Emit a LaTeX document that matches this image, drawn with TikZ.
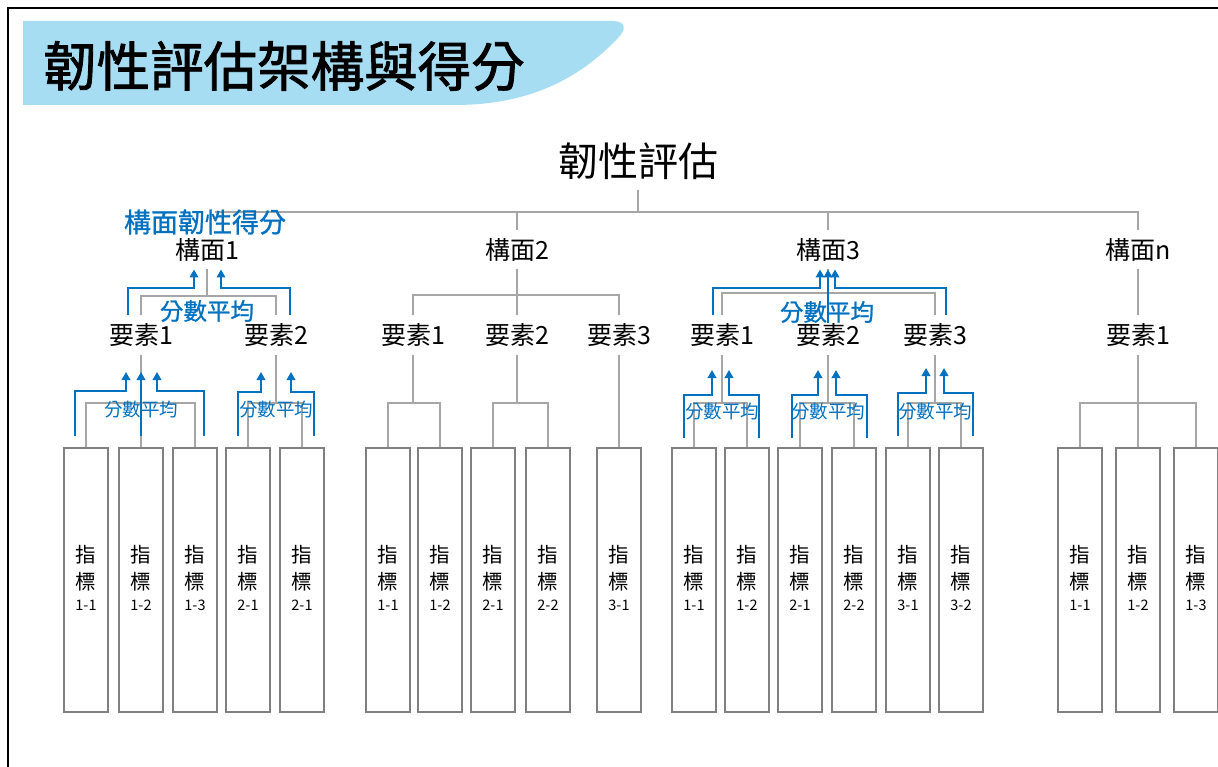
\documentclass[tikz,border=0pt]{standalone}
\usepackage{fontspec}
\setmainfont{Noto Sans CJK TC}
\newfontfamily\cjkfb[FakeBold=1.6]{Noto Sans CJK TC}
\newfontfamily\cjkmb[FakeBold=1.0]{Noto Sans CJK TC}
\usetikzlibrary{arrows.meta,calc}
\definecolor{tgray}{HTML}{A6A6A6}
\definecolor{bgray}{HTML}{808080}
\definecolor{ablue}{HTML}{0070C0}
\definecolor{banner}{HTML}{A6DDF2}
\begin{document}
\begin{tikzpicture}[x=1pt,y=-1pt,
  tree/.style={draw=tgray,line width=1.5pt},
  lab/.style={inner sep=0pt,outer xsep=0pt,outer ysep=8pt,font=\fontsize{25}{27}\selectfont},
  rootlab/.style={inner sep=0pt,outer ysep=11pt,font=\fontsize{40}{44}\selectfont},
  indbox/.style={draw=bgray,line width=2pt,minimum width=44pt,minimum height=264pt,inner sep=0pt,anchor=north},
  itxt/.style={inner sep=0pt,font=\fontsize{20.5}{22}\selectfont},
  inum/.style={inner sep=0pt,font=\fontsize{14.5}{15}\selectfont},
  barr/.style={draw=ablue,line width=2.2pt,-{Triangle[width=8.5pt,length=8pt]}},
  btxtL/.style={text=ablue,inner sep=0pt,font=\cjkmb\fontsize{23.5}{25}\selectfont},
  btxtS/.style={text=ablue,inner sep=0pt,font=\fontsize{18.5}{20}\selectfont}]
\useasboundingbox (0,0) rectangle (1218,767);
% frame
\draw[line width=2pt] (8,780) -- (8,8) -- (1230,8);
% banner
\fill[banner] (23,21) -- (612,21) .. controls (626,21) and (627,29) .. (618,38)
  .. controls (580,78) and (530,105) .. (455,105) -- (23,105) -- cycle;
\node[font=\cjkfb\fontsize{53.5}{57}\selectfont,inner sep=0pt,anchor=west] (title) at (43,66) {韌性評估架構與得分};

% root and dimensions
\node[rootlab] (r) at (638,161) {韌性評估};
\coordinate (rj) at (638,212);
\node[lab] (c1) at (207,250) {構面1};
\node[lab] (c2) at (517,250) {構面2};
\node[lab] (c3) at (828,250) {構面3};
\node[lab] (c4) at (1138,250) {構面n};
\draw[tree] (r.south) -- (rj);
\draw[tree] (215,212) -- (c2.north |- rj) -- (c4.north |- rj) -- (c4.north);
\draw[tree] (c2.north |- rj) -- (c2.north);
\draw[tree] (c3.north |- rj) -- (c3.north);

% elements
\node[lab] (e11) at (141,335) {要素1};
\node[lab] (e12) at (276,335) {要素2};
\node[lab] (e21) at (413,335) {要素1};
\node[lab] (e22) at (517,335) {要素2};
\node[lab] (e23) at (619,335) {要素3};
\node[lab] (e31) at (722,335) {要素1};
\node[lab] (e32) at (828,335) {要素2};
\node[lab] (e33) at (935,335) {要素3};
\node[lab] (e41) at (1138,335) {要素1};

\coordinate (j1) at (207,296);
\coordinate (j2) at (517,295);
\coordinate (j3) at (828,293);
\draw[tree] (c1.south) -- (j1);
\draw[tree] (e11.north) |- (j1) -| (e12.north);
\draw[tree] (c2.south) -- (e22.north);
\draw[tree] (e21.north) |- (j2) -| (e23.north);
\draw[tree] (c3.south) -- (j3) -- (e32.north);
\draw[tree] (e31.north) |- (j3) -| (e33.north);
\draw[tree] (c4.south) -- (e41.north);

% indicator boxes
\foreach \n/\x/\t in {1/86/1-1,2/141/1-2,3/195/1-3,4/248/2-1,5/302/2-1,
  6/388/1-1,7/440/1-2,8/493/2-1,9/548/2-2,10/619/3-1,
  11/694/1-1,12/747/1-2,13/800/2-1,14/854/2-2,15/908/3-1,16/961/3-2,
  17/1080/1-1,18/1138/1-2,19/1196/1-3}{
  \node[indbox] (b\n) at (\x,447) {};
  \node[itxt] (z\n) at ($(b\n.north)+(0,108)$) {指};
  \node[itxt] (w\n) at ($(b\n.north)+(0,135)$) {標};
  \node[inum] (v\n) at ($(b\n.north)+(0,158)$) {\t};
}

% element -> indicator connections
\coordinate (k11) at (141,403);
\coordinate (k12) at (276,403);
\coordinate (k21) at (413,403);
\coordinate (k22) at (517,403);
\coordinate (k31) at (722,403);
\coordinate (k32) at (828,403);
\coordinate (k33) at (935,403);
\coordinate (k41) at (1138,403);
\draw[tree] (e11.south) -- (b2.north);
\draw[tree] (b1.north) |- (k11) -| (b3.north);
\draw[tree] (e12.south) -- (k12);
\draw[tree] (b4.north) |- (k12) -| (b5.north);
\draw[tree] (e21.south) -- (k21);
\draw[tree] (b6.north) |- (k21) -| (b7.north);
\draw[tree] (e22.south) -- (k22);
\draw[tree] (b8.north) |- (k22) -| (b9.north);
\draw[tree] (e23.south) -- (b10.north);
\draw[tree] (e31.south) -- (k31);
\draw[tree] (b11.north) |- (k31) -| (b12.north);
\draw[tree] (e32.south) -- (k32);
\draw[tree] (b13.north) |- (k32) -| (b14.north);
\draw[tree] (e33.south) -- (k33);
\draw[tree] (b15.north) |- (k33) -| (b16.north);
\draw[tree] (e41.south) -- (b18.north);
\draw[tree] (b17.north) |- (k41) -| (b19.north);

% blue annotations: dimension score
\node[btxtL,font=\cjkmb\fontsize{27}{29}\selectfont] (cs) at (205,222) {構面韌性得分};
\node[btxtL] (a1) at (207,311) {分數平均};
\draw[barr] (e11.north -| 128,0) |- (194,288) -- (c1.south -| 194,0);
\draw[barr] (e12.north -| 290,0) |- (221,288) -- (c1.south -| 221,0);
\node[btxtL] (a3) at (827,312) {分數平均};
\draw[barr] (e31.north -| 713,0) |- (820,288) -- (c3.south -| 820,0);
\draw[barr] ([yshift=-8pt]e32.north) -- (c3.south);
\draw[barr] (e33.north -| 946,0) |- (835,288) -- (c3.south -| 835,0);

% blue annotations: element averages
\node[btxtS] (s11) at (141,410) {分數平均};
\draw[barr] (75,436) |- (126,391) -- (126,372);
\draw[barr] (141,436) -- (141,372);
\draw[barr] (204,436) |- (157,391) -- (157,372);
\node[btxtS] (s12) at (276,410) {分數平均};
\draw[barr] (238,436) |- (261,392) -- (261,372);
\draw[barr] (314,436) |- (291,392) -- (291,372);
\node[btxtS] (s31) at (722,412) {分數平均};
\draw[barr] (684,438) |- (712,395) -- (712,370);
\draw[barr] (759,438) |- (729,395) -- (729,370);
\node[btxtS] (s32) at (828,412) {分數平均};
\draw[barr] (792,438) |- (818,395) -- (818,370);
\draw[barr] (867,438) |- (836,395) -- (836,370);
\node[btxtS] (s33) at (935,412) {分數平均};
\draw[barr] (898,436) |- (926,393) -- (926,368);
\draw[barr] (973,436) |- (944,393) -- (944,368);
\end{tikzpicture}
\end{document}
